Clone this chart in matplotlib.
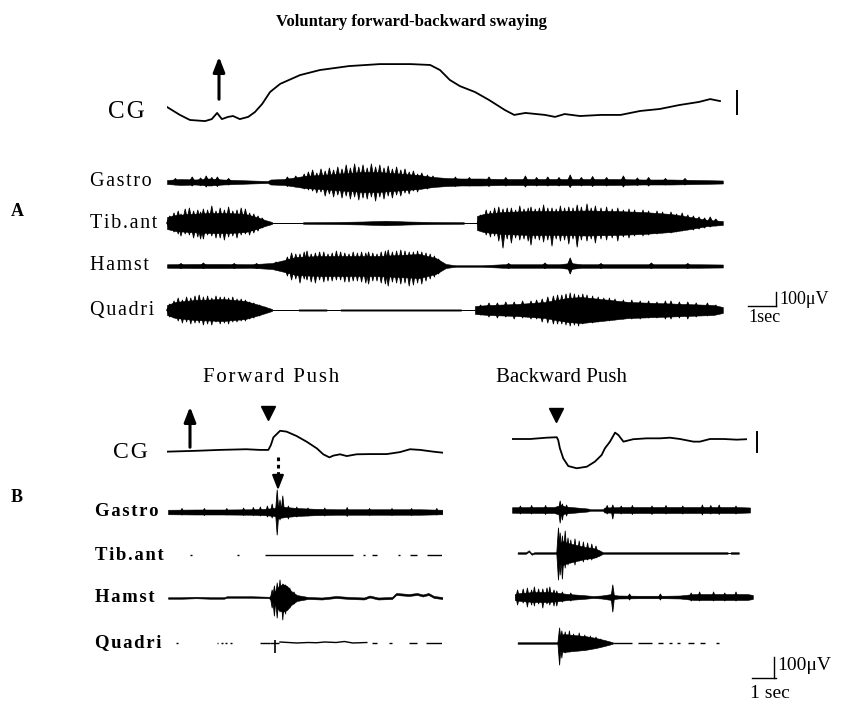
import matplotlib
matplotlib.use("Agg")
import matplotlib.pyplot as plt
from matplotlib.collections import PolyCollection
import numpy as np

plt.rcParams['font.family'] = ['Liberation Serif', 'DejaVu Serif']

# page size in pixels and trace scales
W, H = 846, 710
PX_PER_SEC = 28.0
UV_PX = 0.125   # px per microvolt
MM_PX = 2.2     # px per mm of CG displacement

# ---------------- panel A : voluntary sway ----------------
cg_a_t = [0, 0.46, 0.82, 1.36, 1.6, 1.79, 1.96, 2.18, 2.36, 2.6, 2.9, 3.14, 3.4, 3.68, 4.04, 4.75,
          5.46, 6.5, 7.6, 8.7, 9.4, 9.75, 10.1, 10.46, 11.0, 11.5, 12.07, 12.4, 12.8, 13.5, 13.86,
          14.2, 14.75, 15.5, 16.2, 16.9, 17.6, 18.3, 19.0, 19.4, 19.75]
cg_a_mm = [5, 1.4, -0.9, -1.4, -0.5, 2.3, -0.5, 0.5, 0.9, -0.5, 0.5, 2.7, 6.4, 11.8, 15.5, 19.5,
           21.8, 23.6, 24.5, 24.5, 24.1, 21.8, 17.3, 14.5, 11.8, 8.2, 3.6, 1.4, 2.3, 1.4, 0.5,
           1.8, 0.9, 1.4, 1.4, 3.2, 4.1, 5.9, 7.3, 8.6, 7.7]

gastro_a_t = [0, 0.5, 1.0, 1.5, 2.0, 2.5, 3.0, 3.6, 3.7, 4.2, 4.9, 5.5, 6.0, 6.5, 7.0, 7.5, 8.0, 8.5,
              9.0, 9.5, 10.0, 10.5, 11.2, 12.0, 13.0, 14.0, 15.0, 16.0, 17.0, 18.0, 19.0, 19.85]
gastro_a_uv = [16, 24, 20, 28, 20, 16, 12, 8, 20, 24, 48, 56, 64, 72, 80, 80, 72, 64,
               56, 40, 32, 28, 28, 24, 24, 24, 24, 24, 20, 20, 16, 12]
gastro_a_spikes = [(0.3, 28, 24), (0.9, 40, 32), (1.2, 32, 28), (1.4, 48, 40), (1.6, 36, 32),
                   (1.8, 40, 36), (2.2, 28, 24), (4.3, 40, 36), (4.6, 48, 40), (4.9, 64, 56),
                   (5.05, 80, 64), (5.2, 96, 72), (5.35, 72, 88), (5.5, 104, 80), (5.65, 88, 112),
                   (5.8, 112, 96), (5.95, 96, 120), (6.1, 120, 104), (6.25, 104, 128), (6.4, 136, 112),
                   (6.55, 112, 136), (6.7, 144, 120), (6.85, 120, 144), (7.0, 136, 128), (7.15, 112, 136),
                   (7.3, 144, 120), (7.45, 120, 152), (7.6, 136, 120), (7.75, 112, 136), (7.9, 128, 112),
                   (8.05, 104, 128), (8.2, 120, 104), (8.35, 96, 112), (8.5, 104, 88), (8.65, 80, 96),
                   (8.8, 88, 72), (8.95, 64, 80), (9.1, 72, 56), (9.3, 56, 56), (9.5, 48, 40),
                   (10.3, 40, 36), (10.8, 36, 32), (11.5, 40, 36), (12.1, 36, 32), (12.8, 48, 40),
                   (13.2, 36, 32), (13.6, 40, 32), (14.0, 36, 32), (14.4, 56, 44), (14.8, 36, 32),
                   (15.2, 44, 36), (15.7, 36, 32), (16.3, 48, 40), (16.8, 32, 28), (17.2, 36, 32),
                   (17.8, 28, 24), (18.5, 28, 24)]

tib_a_t = [0, 0.3, 0.8, 1.5, 2.2, 2.8, 3.2, 3.5, 3.75, 3.76, 4.85, 4.86, 6.0, 7.0, 7.8, 8.6, 9.5,
           10.6, 10.61, 11.06, 11.07, 11.3, 12.0, 13.0, 14.0, 15.0, 16.0, 17.0, 18.0, 18.7, 19.3, 19.85]
tib_a_uv = [48, 64, 72, 80, 80, 72, 48, 24, 8, 0, 0, 6, 8, 12, 18, 12, 8,
            6, 0, 0, 56, 72, 88, 96, 96, 100, 96, 88, 72, 48, 24, 16]
tib_a_spikes = [(0.1, 56, 48), (0.25, 80, 72), (0.4, 96, 88), (0.5, 72, 104), (0.65, 112, 88),
                (0.8, 120, 96), (0.95, 96, 120), (1.1, 104, 112), (1.2, 88, 128), (1.3, 112, 128),
                (1.45, 104, 96), (1.6, 136, 104), (1.75, 96, 120), (1.9, 120, 120), (2.05, 104, 136),
                (2.2, 128, 112), (2.35, 96, 104), (2.5, 104, 120), (2.65, 120, 96), (2.8, 112, 88),
                (2.95, 80, 96), (3.1, 72, 80), (3.25, 56, 64), (3.4, 40, 40),
                (11.2, 64, 56), (11.4, 104, 96), (11.55, 96, 112), (11.7, 120, 104), (11.85, 128, 144),
                (12.0, 112, 200), (12.15, 120, 128), (12.3, 120, 160), (12.45, 104, 120), (12.6, 136, 136),
                (12.75, 112, 128), (12.9, 120, 144), (13.0, 128, 176), (13.15, 112, 128), (13.3, 120, 136),
                (13.45, 144, 152), (13.6, 120, 136), (13.75, 120, 184), (13.9, 112, 128), (14.05, 136, 144),
                (14.2, 120, 136), (14.35, 128, 168), (14.5, 120, 128), (14.65, 144, 192), (14.8, 128, 136),
                (15.0, 152, 144), (15.15, 120, 128), (15.3, 136, 160), (15.5, 120, 128), (15.7, 128, 136),
                (15.9, 112, 120), (16.1, 120, 144), (16.3, 104, 112), (16.5, 112, 120), (16.7, 104, 104),
                (17.0, 104, 104), (17.2, 96, 96), (17.5, 96, 88), (17.7, 88, 80), (18.0, 88, 80),
                (18.2, 72, 72), (18.4, 80, 64), (18.6, 64, 56), (18.8, 56, 56), (19.0, 48, 48),
                (19.2, 40, 40), (19.4, 48, 32), (19.6, 32, 24)]

hamst_a_t = [0, 1, 2, 3, 3.75, 4.2, 4.6, 5.5, 6.5, 7.5, 8.3, 9.0, 9.6, 9.96, 10.3, 11.25, 12, 13,
             14, 14.4, 14.8, 16, 17, 18, 19, 19.85]
hamst_a_uv = [14, 16, 16, 14, 24, 48, 72, 80, 80, 80, 88, 96, 64, 16, 6, 6, 14, 14,
              14, 24, 14, 14, 14, 14, 14, 12]
hamst_a_spikes = [(0.5, 20, 20), (1.3, 24, 20), (2.4, 20, 20), (3.2, 20, 20), (3.9, 32, 32),
                  (4.3, 72, 80), (4.45, 104, 112), (4.6, 96, 104), (4.75, 96, 136), (4.9, 112, 104),
                  (5.0, 120, 112), (5.15, 96, 128), (5.3, 104, 136), (5.45, 112, 112), (5.6, 112, 128),
                  (5.75, 96, 120), (5.9, 104, 120), (6.05, 120, 112), (6.2, 112, 112), (6.35, 104, 128),
                  (6.5, 96, 128), (6.65, 112, 120), (6.8, 104, 120), (6.95, 112, 128), (7.1, 104, 136),
                  (7.2, 112, 144), (7.35, 104, 120), (7.5, 96, 120), (7.65, 112, 136), (7.8, 120, 144),
                  (7.9, 128, 160), (8.05, 112, 128), (8.2, 120, 136), (8.35, 128, 144), (8.5, 120, 136),
                  (8.65, 112, 160), (8.8, 112, 152), (8.95, 120, 136), (9.1, 112, 144), (9.25, 104, 120),
                  (9.4, 96, 104), (9.55, 80, 88), (9.7, 56, 64), (12.2, 20, 20), (13.5, 24, 20),
                  (14.4, 64, 64), (15.5, 20, 20), (17.3, 24, 20), (18.6, 20, 20)]

quad_a_t = [0, 0.3, 1.0, 2.0, 2.8, 3.3, 3.75, 3.76, 4.69, 4.7, 5.7, 5.71, 6.19, 6.2, 10.5, 10.51,
            10.99, 11.0, 11.5, 12.5, 13.5, 14.3, 14.8, 15.5, 16.5, 17.5, 18.5, 19.5, 19.85]
quad_a_uv = [40, 64, 80, 88, 72, 40, 8, 0, 0, 5, 5, 0, 0, 5, 5, 0,
             0, 32, 40, 48, 64, 96, 104, 88, 64, 56, 48, 40, 24]
quad_a_spikes = [(0.1, 48, 56), (0.25, 72, 64), (0.4, 96, 88), (0.55, 80, 104), (0.7, 104, 96),
                 (0.85, 96, 112), (1.0, 112, 104), (1.15, 120, 104), (1.3, 104, 120), (1.45, 112, 112),
                 (1.6, 96, 120), (1.75, 112, 96), (1.9, 104, 112), (2.05, 104, 104), (2.2, 96, 112),
                 (2.35, 104, 96), (2.5, 88, 96), (2.65, 88, 88), (2.8, 80, 88), (2.95, 64, 72),
                 (3.1, 56, 64), (3.3, 40, 48), (3.5, 24, 24),
                 (11.2, 40, 40), (11.5, 56, 56), (11.8, 56, 64), (12.1, 64, 56), (12.4, 64, 72),
                 (12.7, 72, 64), (13.0, 72, 72), (13.2, 80, 72), (13.4, 88, 96), (13.6, 104, 104),
                 (13.8, 112, 112), (13.95, 120, 112), (14.1, 120, 112), (14.25, 128, 120), (14.4, 136, 128),
                 (14.55, 128, 120), (14.7, 120, 128), (14.85, 128, 112), (15.0, 120, 104), (15.2, 112, 104),
                 (15.4, 104, 96), (15.6, 96, 88), (15.8, 96, 88), (16.0, 88, 80), (16.3, 80, 72),
                 (16.6, 80, 72), (16.9, 72, 72), (17.2, 72, 64), (17.5, 64, 64), (17.8, 72, 72),
                 (18.0, 72, 72), (18.3, 64, 64), (18.6, 64, 72), (18.9, 56, 56), (19.3, 56, 48),
                 (19.6, 40, 40)]

# ---------------- panel B : forward push ----------------
cg_f_t = [0, 1.07, 1.89, 2.83, 3.32, 3.62, 3.71, 3.80, 4.04, 4.27, 4.63, 4.99, 5.35, 5.58, 5.80,
          5.94, 6.18, 6.42, 6.77, 7.25, 7.85, 8.32, 8.68, 9.04, 9.51, 9.87]
cg_f_mm = [-0.3, 0.1, 0.5, 0.8, 0.5, 0.5, 2.7, 6.2, 9.2, 8.8, 6.8, 4.2, 1.2, -1.5, -2.9,
           -2.1, -1.5, -2.3, -1.5, -1.4, -1.4, -0.5, 0.8, 0.5, -0.3, -0.8]

gastro_f_t = [0, 1, 2, 3, 3.5, 3.8, 3.95, 4.2, 4.6, 5.2, 6, 7, 8, 9, 9.8]
gastro_f_uv = [18, 20, 20, 22, 26, 32, 48, 40, 32, 26, 22, 22, 22, 22, 18]
gastro_f_spikes = [(0.5, 28, 24), (1.3, 28, 28), (2.1, 28, 24), (2.7, 32, 28), (3.05, 36, 28),
                   (3.3, 40, 32), (3.55, 48, 40), (3.72, 64, 48), (3.9, 176, 184), (4.0, 96, 64),
                   (4.1, 128, 48), (4.3, 48, 56), (4.6, 40, 40), (5.0, 32, 32), (5.6, 32, 32),
                   (6.4, 36, 36), (7.2, 28, 28), (8.0, 28, 28), (8.7, 28, 28), (9.6, 28, 24)]

tib_f_segments = [(0.78, 0.84), (2.48, 2.54), (3.46, 6.6), (6.96, 7.05), (7.3, 7.45), (8.2, 8.3),
                  (8.64, 8.9), (9.25, 9.8)]

hamst_f_t = [0, 0.5, 1, 1.5, 2.0, 2.1, 2.5, 3.0, 3.6, 3.7, 3.8, 3.95, 4.1, 4.25, 4.4, 4.6, 5.0, 5.5,
             6.0, 6.5, 7.0, 7.2, 7.5, 8.0, 8.15, 8.6, 8.9, 9.1, 9.3, 9.5, 9.8]
hamst_f_mid = [0, 0, 4, 0, 0, 8, 8, 8, 4, 0, 0, 0, 0, 0, 0, 0, 0, -4,
               8, 0, -4, 12, -4, 0, 32, 24, 32, 20, 32, 8, 0]
hamst_f_uv = [6, 6, 6, 6, 6, 6, 6, 6, 6, 16, 48, 96, 112, 96, 56, 24, 8, 8,
              8, 8, 8, 8, 8, 8, 8, 8, 8, 8, 8, 8, 8]
hamst_f_spikes = [(3.72, 64, 80), (3.8, 96, 144), (3.9, 120, 160), (4.0, 144, 112), (4.1, 112, 176),
                  (4.2, 104, 128), (4.35, 80, 80), (4.5, 48, 48)]

quad_f_segments = [(0.3, 0.36), (1.75, 1.8), (1.9, 1.95), (2.05, 2.1), (2.2, 2.3), (3.3, 3.65),
                   (3.65, 3.95), (7.3, 7.45), (7.9, 8.0), (8.6, 8.9), (9.2, 9.8)]
quad_f_t = [4.0, 4.3, 4.6, 5.0, 5.3, 5.6, 6.0, 6.3, 6.6, 7.1]
quad_f_uv = [8, 4, 0, 4, 2, 8, 4, 12, 0, 4]

# ---------------- panel B : backward push ----------------
cg_b_t = [0, 0.65, 1.24, 1.6, 1.65, 1.71, 1.83, 2.01, 2.31, 2.67, 2.96, 3.2, 3.32, 3.5, 3.68, 3.8,
          3.98, 4.33, 4.81, 5.29, 5.64, 6.0, 6.48, 6.71, 7.07, 7.55, 8.03, 8.38]
cg_b_mm = [0, 0, 0.6, 0.8, -0.5, -4.2, -8.8, -12.3, -13.3, -12.6, -10.3, -7.3, -4.2, -1.2, 2.9, 1.8,
           -1.2, -0.1, 0.3, 0.3, 0.6, 0, -1.2, -1.2, 0, 0, -0.3, -0.1]

gastro_b_t = [0, 1, 1.5, 1.75, 1.9, 2.3, 2.7, 2.8, 3.25, 3.3, 4, 5, 6, 7, 8, 8.5]
gastro_b_uv = [22, 24, 24, 40, 28, 20, 12, 6, 6, 20, 24, 24, 24, 24, 24, 20]
gastro_b_spikes = [(0.3, 32, 32), (0.7, 36, 32), (1.2, 36, 36), (1.72, 72, 104), (1.8, 48, 80),
                   (1.95, 40, 48), (3.4, 36, 32), (3.6, 40, 72), (3.9, 32, 32), (4.3, 36, 36),
                   (5.0, 32, 36), (5.5, 36, 32), (6.1, 32, 32), (6.8, 40, 40), (7.1, 36, 32),
                   (7.4, 40, 36), (8.0, 32, 32)]

tib_b_t = [0.2, 0.5, 0.6, 0.7, 0.8, 1.6, 1.62, 1.68, 1.8, 2.0, 2.3, 2.6, 2.9, 3.1, 3.25, 7.7, 7.71,
           7.8, 7.81, 8.1]
tib_b_mid = [0, 0, 16, -8, 0, 0, 0, 0, 0, 0, 0, 0, 0, 0, 0, 0, 0, 0, 0, 0]
tib_b_uv = [6, 6, 6, 6, 6, 6, 8, 64, 96, 80, 64, 48, 40, 24, 6, 6, 0, 0, 6, 6]
tib_b_spikes = [(1.66, 200, 216), (1.72, 160, 176), (1.8, 136, 208), (1.9, 176, 120), (2.0, 120, 96),
                (2.1, 104, 80), (2.25, 112, 96), (2.4, 96, 64), (2.55, 88, 72), (2.7, 80, 56),
                (2.85, 72, 56), (3.0, 56, 40)]

hamst_b_t = [0.1, 0.3, 0.8, 1.3, 1.7, 2.0, 2.5, 2.9, 3.2, 3.55, 3.65, 3.8, 4.5, 5.5, 6.0, 6.5, 7.5,
             8.4, 8.6]
hamst_b_uv = [24, 32, 40, 40, 32, 24, 16, 8, 12, 24, 16, 12, 10, 10, 12, 24, 24, 24, 16]
hamst_b_spikes = [(0.2, 56, 64), (0.4, 64, 48), (0.55, 72, 80), (0.7, 56, 64), (0.8, 80, 72),
                  (0.95, 64, 56), (1.1, 64, 88), (1.25, 72, 56), (1.35, 80, 64), (1.5, 56, 72),
                  (1.6, 48, 72), (1.8, 40, 40), (2.1, 32, 32), (3.6, 96, 120), (4.2, 24, 24),
                  (5.3, 24, 24), (6.4, 32, 32), (6.7, 40, 32), (7.2, 40, 32), (7.6, 32, 32), (8.0, 40, 32)]

quad_b_t = [0.2, 1.6, 1.65, 1.72, 1.85, 2.2, 2.6, 3.0, 3.3, 3.6]
quad_b_uv = [6, 6, 8, 64, 72, 64, 56, 40, 24, 6]
quad_b_spikes = [(1.7, 120, 176), (1.78, 96, 120), (1.9, 88, 80), (2.05, 96, 72), (2.2, 72, 64),
                 (2.4, 80, 56), (2.6, 64, 56), (2.8, 56, 48), (3.0, 48, 40), (3.15, 32, 32)]
quad_b_segments = [(3.6, 4.3), (4.5, 5.0), (5.2, 5.4), (5.6, 5.7), (5.9, 6.0), (6.3, 6.5),
                   (6.7, 6.9), (7.3, 7.4)]

muscles = ["Gastro", "Tib.ant", "Hamst", "Quadri"]

fig = plt.figure(figsize=(W / 100, H / 100), dpi=100)
page = fig.add_axes([0, 0, 1, 1])
page.set_xlim(0, W)
page.set_ylim(H, 0)
page.axis('off')


def spaced(s, gap='\u200a'):
    # the typewritten labels are letter-spaced
    return gap.join(s)


def trace_ax(x_left, y_mid, t_end, unit_px, half_px=45):
    # one transparent axes per trace, in seconds and uV (or mm)
    ax = fig.add_axes([x_left / W, (H - y_mid - half_px) / H,
                       t_end * PX_PER_SEC / W, 2 * half_px / H])
    ax.set_xlim(0, t_end)
    lim = half_px / unit_px
    ax.set_ylim(-lim, lim)
    ax.axis('off')
    ax.patch.set_visible(False)
    return ax


def emg(ax, t, amp, spikes=None, mid=None, half=0.06):
    t = np.array(t, float)
    amp = np.array(amp, float)
    mid = np.zeros_like(t) if mid is None else np.array(mid, float)
    ax.fill_between(t, mid - amp, mid + amp, color='k', lw=0.4, edgecolor='k')
    if spikes:
        # each spike is a narrow black triangle above and below the baseline
        polys = []
        for st, su, sd in spikes:
            polys.append([(st - half, 0), (st, su), (st + half, 0)])
            polys.append([(st - half, 0), (st, -sd), (st + half, 0)])
        ax.add_collection(PolyCollection(polys, facecolors='k', edgecolors='k',
                                         linewidths=0.6, clip_on=False))


def segs(ax, segments, lw=1.1):
    for a, b in segments:
        ax.plot([a, b], [0, 0], color='k', lw=lw, solid_capstyle='butt')


# ---- panel A ----
ax = trace_ax(167, 118, 19.85, MM_PX, 70)
ax.plot(cg_a_t, cg_a_mm, color='k', lw=1.3)

rows_a = [(182, gastro_a_t, gastro_a_uv, gastro_a_spikes),
          (223, tib_a_t, tib_a_uv, tib_a_spikes),
          (266, hamst_a_t, hamst_a_uv, hamst_a_spikes),
          (310, quad_a_t, quad_a_uv, quad_a_spikes)]
for y, t, a, sp in rows_a:
    emg(trace_ax(167, y, 19.85, UV_PX), t, a, sp, half=0.11)

# ---- panel B forward ----
ax = trace_ax(167, 451, 9.87, MM_PX)
ax.plot(cg_f_t, cg_f_mm, color='k', lw=1.3)

emg(trace_ax(168, 512, 9.8, UV_PX), gastro_f_t, gastro_f_uv, gastro_f_spikes)
segs(trace_ax(168, 555, 9.8, UV_PX), tib_f_segments, lw=1.0)
emg(trace_ax(168, 598, 9.8, UV_PX), hamst_f_t, hamst_f_uv, hamst_f_spikes, hamst_f_mid)
ax = trace_ax(168, 643, 9.8, UV_PX)
segs(ax, quad_f_segments, lw=1.0)
ax.plot(quad_f_t, quad_f_uv, color='k', lw=1.0)
ax.vlines([3.82], [-80], [24], color='k', lw=1.2)

# ---- panel B backward ----
ax = trace_ax(512, 439, 8.38, MM_PX)
ax.plot(cg_b_t, cg_b_mm, color='k', lw=1.3)

emg(trace_ax(512, 510, 8.6, UV_PX), gastro_b_t, gastro_b_uv, gastro_b_spikes)
emg(trace_ax(512, 553, 8.6, UV_PX), tib_b_t, tib_b_uv, tib_b_spikes, tib_b_mid)
emg(trace_ax(512, 597, 8.6, UV_PX), hamst_b_t, hamst_b_uv, hamst_b_spikes)
ax = trace_ax(512, 643, 8.6, UV_PX)
emg(ax, quad_b_t, quad_b_uv, quad_b_spikes)
segs(ax, quad_b_segments, lw=1.0)

# ---- text and markers ----
page.text(411, 22, "Voluntary forward-backward swaying", fontsize=12, fontweight='bold',
          ha='center', va='center')
page.text(126, 112, spaced("CG"), fontsize=18, ha='center', va='center')
page.text(17, 212, "A", fontsize=13, fontweight='bold', ha='center', va='center')
for name, y in zip(muscles, [182, 223, 266, 310]):
    page.text(90, y, spaced(name), fontsize=14.5, ha='left', va='center')

page.text(271, 377, spaced("Forward Push"), fontsize=15, ha='center', va='center')
page.text(562, 377, "Backward Push", fontsize=15, ha='center', va='center')
page.text(130, 453, spaced("CG"), fontsize=17, ha='center', va='center')
page.text(17, 497, "B", fontsize=13, fontweight='bold', ha='center', va='center')
for name, y in zip(muscles, [512, 555, 598, 643]):
    page.text(95, y, spaced(name), fontsize=13.5, fontweight='bold', ha='left', va='center')

# arrows and triangles
arrow_kw = dict(arrowstyle='-|>,head_width=0.35,head_length=0.9', color='k', lw=2.2)
page.annotate("", xy=(219, 54), xytext=(219, 102), arrowprops=arrow_kw)
page.annotate("", xy=(190, 404), xytext=(190, 450), arrowprops=arrow_kw)
page.plot([268], [413], marker='v', color='k', markersize=10)
page.plot([556], [415], marker='v', color='k', markersize=10)
page.plot([278, 278], [457, 478], color='k', lw=2.2, linestyle=(0, (1.2, 1.2)))
page.annotate("", xy=(278, 493), xytext=(278, 477),
              arrowprops=dict(arrowstyle='-|>,head_width=0.35,head_length=0.9', color='k', lw=1.5))

# scale bars
page.plot([737, 737], [91, 114], color='k', lw=1.4)
page.plot([757, 757], [432, 452], color='k', lw=1.4)
page.plot([776, 776], [292, 306], color='k', lw=1.0)
page.plot([748, 776], [306, 306], color='k', lw=1.0)
page.text(779, 299, "100\u03bcV", fontsize=13, ha='left', va='center')
page.text(748, 318, "1sec", fontsize=13, ha='left', va='center')
page.plot([774, 774], [657, 678], color='k', lw=1.0)
page.plot([752, 776], [678, 678], color='k', lw=1.0)
page.text(777, 666, "100\u03bcV", fontsize=14, ha='left', va='center')
page.text(770, 694, "1 sec", fontsize=14, ha='center', va='center')

fig.savefig("out.png", dpi=100)
